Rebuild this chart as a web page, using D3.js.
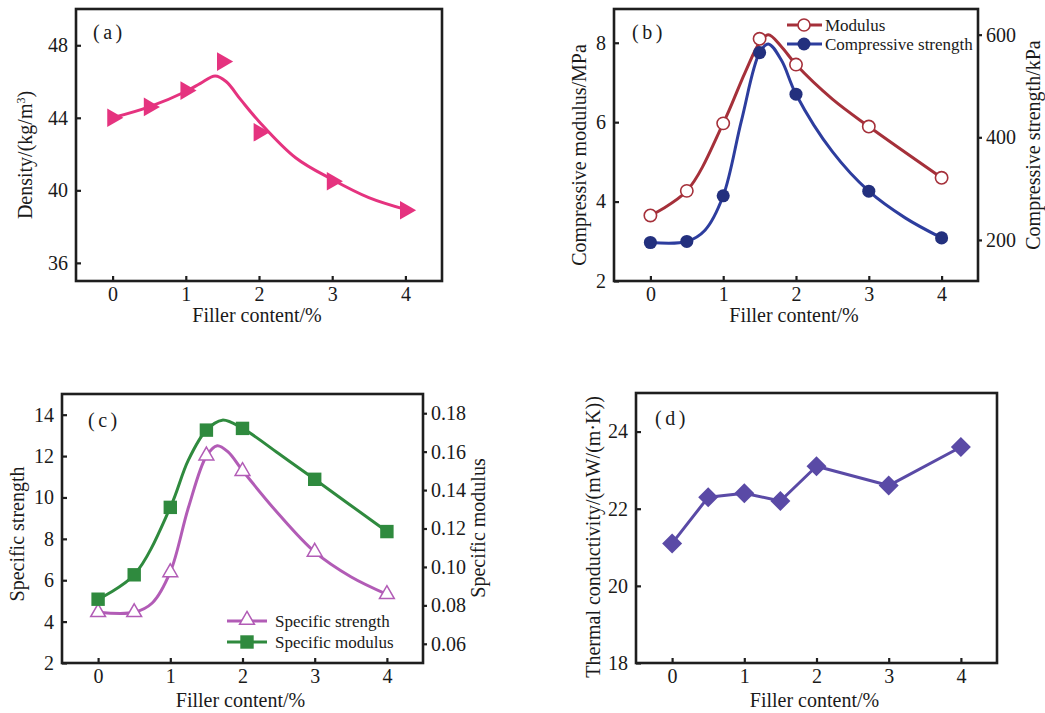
<!DOCTYPE html>
<html>
<head>
<meta charset="utf-8">
<script src="https://cdn.jsdelivr.net/npm/d3@7"></script>
<style>
  html, body { margin: 0; padding: 0; background: #fff; }
  svg { display: block; font-family: "Liberation Serif", "DejaVu Serif", serif; }
</style>
</head>
<body>
<svg id="chart" width="1045" height="713"></svg>
<script>
// ---------- DATA ----------
const fillerContent = [0, 0.5, 1, 1.5, 2, 3, 4];
const xTicks = [0, 1, 2, 3, 4];

// (a) density
const density = [44.0, 44.6, 45.5, 47.1, 43.2, 40.5, 38.9];
const densityFitX = [0, 0.5, 1, 1.2, 1.4, 1.55, 1.75, 2, 2.5, 3, 3.5, 4];
const densityFitY = [44.0, 44.6, 45.45, 45.9, 46.3, 46.0, 45.0, 43.8, 41.8, 40.6, 39.6, 38.95];
const densityTicks = [36, 40, 44, 48];

// (b) compressive modulus / strength
const modulus = [3.65, 4.27, 5.97, 8.1, 7.45, 5.89, 4.6];
const modulusFitX = [0, 0.5, 1, 1.3, 1.5, 1.62, 1.8, 2, 2.5, 3, 4];
const modulusFitY = [3.65, 4.27, 5.97, 7.25, 8.0, 8.2, 7.9, 7.45, 6.58, 5.89, 4.6];
const compStrength = [195, 197, 286, 565, 484, 295, 204];
const compFitX = [0, 0.5, 0.75, 1, 1.25, 1.5, 1.62, 1.8, 2, 2.5, 3, 3.5, 4];
const compFitY = [195, 197, 219, 286, 432, 565, 582, 550, 484, 372, 295, 243, 204];
const modulusTicks = [2, 4, 6, 8];
const compTicks = [200, 400, 600];

// (c) specific strength / modulus
const specStrength = [4.45, 4.45, 6.38, 12.02, 11.27, 7.37, 5.32];
const specStrFitX = [0, 0.5, 0.75, 1, 1.25, 1.5, 1.65, 1.8, 2, 2.5, 3, 3.5, 4];
const specStrFitY = [4.45, 4.45, 4.9, 6.4, 9.5, 12.0, 12.5, 12.2, 11.3, 9.2, 7.37, 6.17, 5.32];
const specModulus = [0.0832, 0.0959, 0.131, 0.1712, 0.1721, 0.1456, 0.1184];
const specModFitX = [0, 0.5, 1, 1.25, 1.5, 1.72, 2, 2.5, 3, 4];
const specModFitY = [0.0832, 0.0959, 0.131, 0.1556, 0.1712, 0.1764, 0.1721, 0.159, 0.1456, 0.1184];
const specStrTicks = [2, 4, 6, 8, 10, 12, 14];
const specModTicks = [0.06, 0.08, 0.10, 0.12, 0.14, 0.16, 0.18];

// (d) thermal conductivity
const conductivity = [21.1, 22.3, 22.4, 22.2, 23.1, 22.6, 23.6];
const conductivityTicks = [18, 20, 22, 24];

// ---------- DRAWING ----------
const svg = d3.select("#chart");
const FRAME = "#1e1e1e";
const TICKFONT = 20, TITLEFONT = 20;

function panel(cfg) {
  const g = svg.append("g");
  const x = d3.scaleLinear().domain([-0.5, 4.5]).range([cfg.l, cfg.r]);
  const yL = d3.scaleLinear().domain(cfg.yL).range([cfg.b, cfg.t]);
  const yR = cfg.yR ? d3.scaleLinear().domain(cfg.yR).range([cfg.b, cfg.t]) : null;

  // axes
  const ax = g.append("g").attr("transform", `translate(0,${cfg.b})`)
    .call(d3.axisBottom(x).tickValues(xTicks).tickSizeInner(-5).tickSizeOuter(0).tickPadding(6).tickFormat(d3.format("d")));
  const ay = g.append("g").attr("transform", `translate(${cfg.l},0)`)
    .call(d3.axisLeft(yL).tickValues(cfg.yLTicks).tickSizeInner(-5).tickSizeOuter(0).tickPadding(8).tickFormat(cfg.yLFmt || d3.format("d")));
  [ax, ay].forEach(a => {
    a.select(".domain").remove();
    a.selectAll(".tick line").attr("stroke", FRAME).attr("stroke-width", 2.2);
    a.selectAll(".tick text").attr("font-family", "Liberation Serif").attr("font-size", TICKFONT).attr("fill", "#1a1a1a");
  });
  ax.selectAll(".tick text").attr("dy", "0.71em");
  if (yR) {
    const ar = g.append("g").attr("transform", `translate(${cfg.r},0)`)
      .call(d3.axisRight(yR).tickValues(cfg.yRTicks).tickSizeInner(4).tickSizeOuter(0).tickPadding(4).tickFormat(cfg.yRFmt || d3.format("d")));
    ar.select(".domain").remove();
    ar.selectAll(".tick line").attr("stroke", FRAME).attr("stroke-width", 2.2);
    ar.selectAll(".tick text").attr("font-family", "Liberation Serif").attr("font-size", TICKFONT).attr("fill", "#1a1a1a");
  }

  // frame
  g.append("rect").attr("x", cfg.l).attr("y", cfg.t)
    .attr("width", cfg.r - cfg.l).attr("height", cfg.b - cfg.t)
    .attr("fill", "none").attr("stroke", FRAME).attr("stroke-width", 2.6);

  // panel label
  g.append("text").attr("x", cfg.lab[0]).attr("y", cfg.lab[1])
    .attr("font-size", 20).attr("letter-spacing", "3.5px").attr("fill", "#1a1a1a").text(cfg.label);

  // x title
  g.append("text").attr("x", (cfg.l + cfg.r) / 2 - 2).attr("y", cfg.b + cfg.xtOff)
    .attr("text-anchor", "middle").attr("font-size", TITLEFONT).attr("fill", "#1a1a1a")
    .text("Filler content/%");

  // y titles
  const yt = g.append("text")
    .attr("transform", `translate(${cfg.ytx},${cfg.yty}) rotate(-90)`)
    .attr("text-anchor", "middle").attr("font-size", TITLEFONT).attr("fill", "#1a1a1a");
  cfg.yTitle(yt);
  if (cfg.yRTitle) {
    g.append("text")
      .attr("transform", `translate(${cfg.yrtx},${cfg.yrty}) rotate(-90)`)
      .attr("text-anchor", "middle").attr("font-size", TITLEFONT).attr("fill", "#1a1a1a")
      .text(cfg.yRTitle);
  }
  return { g, x, yL, yR };
}

function curve(g, xs, ys, x, y, color, w) {
  const pts = xs.map((v, i) => [x(v), y(ys[i])]);
  g.append("path").attr("d", d3.line().curve(d3.curveCatmullRom.alpha(0.5))(pts))
    .attr("fill", "none").attr("stroke", color).attr("stroke-width", w || 3).attr("stroke-linejoin", "round");
}
function straight(g, xs, ys, x, y, color, w) {
  const pts = xs.map((v, i) => [x(v), y(ys[i])]);
  g.append("path").attr("d", d3.line()(pts))
    .attr("fill", "none").attr("stroke", color).attr("stroke-width", w || 3).attr("stroke-linejoin", "round");
}
function markers(g, xs, ys, x, y, type, size, fill, stroke, sw, rot) {
  g.selectAll(null).data(xs).enter().append("path")
    .attr("d", d3.symbol().type(type).size(size)())
    .attr("transform", (d, i) => `translate(${x(d)},${y(ys[i])}) rotate(${rot || 0})`)
    .attr("fill", fill).attr("stroke", stroke).attr("stroke-width", sw || 0);
}

// ----- (a) -----
{
  const PINK = "#e5337f";
  const p = panel({ l: 76, t: 9, r: 442, b: 281, yL: [35, 50], yLTicks: densityTicks, xtOff: 41,
    label: "(a)", lab: [93, 39], ytx: 32, yty: 155,
    yTitle: t => { t.append("tspan").text("Density/(kg/m"); t.append("tspan").attr("font-size", 12).attr("dy", -7).text("3"); t.append("tspan").attr("dy", 7).text(")"); } });
  curve(p.g, densityFitX, densityFitY, p.x, p.yL, PINK, 3);
  markers(p.g, fillerContent, density, p.x, p.yL, d3.symbolTriangle, 150, PINK, PINK, 0, 90);
}

// ----- (b) -----
{
  const RED = "#a5303a", BLUE = "#2d3d9e", NAVY = "#23307e";
  const p = panel({ l: 614, t: 9, r: 978, b: 281, yL: [2, 8.85], yLTicks: modulusTicks, xtOff: 41,
    yR: [120, 650], yRTicks: compTicks,
    label: "(b)", lab: [632, 39], ytx: 586, yty: 155,
    yTitle: t => t.text("Compressive modulus/MPa"),
    yRTitle: "Compressive strength/kPa", yrtx: 1040, yrty: 145 });
  curve(p.g, modulusFitX, modulusFitY, p.x, p.yL, RED, 3);
  curve(p.g, compFitX, compFitY, p.x, p.yR, BLUE, 3);
  markers(p.g, fillerContent, modulus, p.x, p.yL, d3.symbolCircle, 120, "#fff", RED, 1.6);
  markers(p.g, fillerContent, compStrength, p.x, p.yR, d3.symbolCircle, 135, NAVY, NAVY, 0);
  // legend
  const lg = p.g.append("g");
  lg.append("line").attr("x1", 787).attr("x2", 822).attr("y1", 25).attr("y2", 25).attr("stroke", RED).attr("stroke-width", 3);
  lg.append("circle").attr("cx", 804).attr("cy", 25).attr("r", 6).attr("fill", "#fff").attr("stroke", RED).attr("stroke-width", 1.6);
  lg.append("text").attr("x", 825).attr("y", 31).attr("font-size", 17).attr("fill", "#1a1a1a").text("Modulus");
  lg.append("line").attr("x1", 787).attr("x2", 822).attr("y1", 44).attr("y2", 44).attr("stroke", BLUE).attr("stroke-width", 3);
  lg.append("circle").attr("cx", 804).attr("cy", 44).attr("r", 6.5).attr("fill", NAVY);
  lg.append("text").attr("x", 825).attr("y", 50).attr("font-size", 17).attr("fill", "#1a1a1a").text("Compressive strength");
}

// ----- (c) -----
{
  const PURPLE = "#b25cb6", GREEN = "#2f8a3e";
  const p = panel({ l: 62, t: 394, r: 423, b: 663, yL: [2, 15], yLTicks: specStrTicks, xtOff: 44,
    yR: [0.05, 0.19], yRTicks: specModTicks, yRFmt: d3.format(".2f"),
    label: "(c)", lab: [88, 427], ytx: 24, yty: 534,
    yTitle: t => t.text("Specific strength"),
    yRTitle: "Specific modulus", yrtx: 485, yrty: 528 });
  curve(p.g, specStrFitX, specStrFitY, p.x, p.yL, PURPLE, 3);
  curve(p.g, specModFitX, specModFitY, p.x, p.yR, GREEN, 3);
  markers(p.g, fillerContent, specStrength, p.x, p.yL, d3.symbolTriangle, 95, "#fff", PURPLE, 1.5);
  markers(p.g, fillerContent, specModulus, p.x, p.yR, d3.symbolSquare, 180, GREEN, GREEN, 0);
  const lg = p.g.append("g");
  lg.append("line").attr("x1", 227).attr("x2", 267).attr("y1", 621).attr("y2", 621).attr("stroke", PURPLE).attr("stroke-width", 3);
  lg.append("path").attr("d", d3.symbol().type(d3.symbolTriangle).size(95)()).attr("transform", "translate(247,620)")
    .attr("fill", "#fff").attr("stroke", PURPLE).attr("stroke-width", 1.5);
  lg.append("text").attr("x", 275).attr("y", 627).attr("font-size", 17).attr("fill", "#1a1a1a").text("Specific strength");
  lg.append("line").attr("x1", 227).attr("x2", 267).attr("y1", 642).attr("y2", 642).attr("stroke", GREEN).attr("stroke-width", 3);
  lg.append("path").attr("d", d3.symbol().type(d3.symbolSquare).size(180)()).attr("transform", "translate(247,642)").attr("fill", GREEN);
  lg.append("text").attr("x", 275).attr("y", 648).attr("font-size", 17).attr("fill", "#1a1a1a").text("Specific modulus");
}

// ----- (d) -----
{
  const VIOLET = "#5a4aa6";
  const p = panel({ l: 636, t: 393, r: 997, b: 663, yL: [18, 25], yLTicks: conductivityTicks, xtOff: 44,
    label: "(d)", lab: [655, 425], ytx: 600, yty: 537,
    yTitle: t => t.text("Thermal conductivity/(mW/(m·K))") });
  straight(p.g, fillerContent, conductivity, p.x, p.yL, VIOLET, 3);
  markers(p.g, fillerContent, conductivity, p.x, p.yL, d3.symbolSquare, 200, VIOLET, VIOLET, 0, 45);
}
</script>
</body>
</html>
